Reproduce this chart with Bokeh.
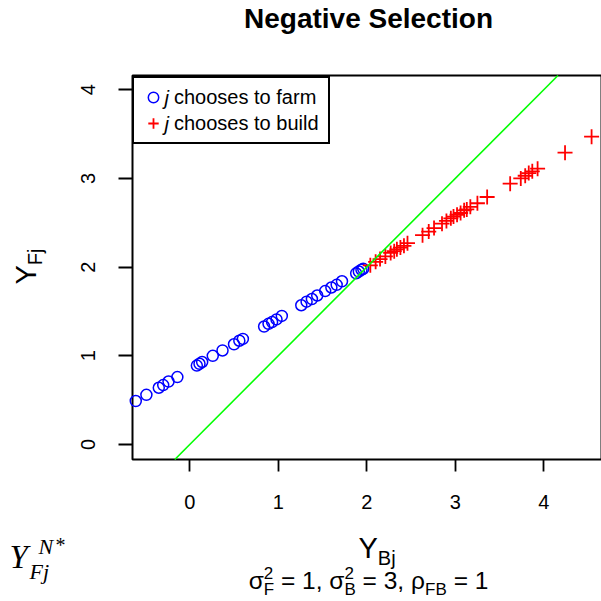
import math
from bokeh.plotting import figure
from bokeh.models import Range1d, Label, Legend, LegendItem, FixedTicker, BoxAnnotation
from bokeh.embed import file_html
from bokeh.resources import INLINE

# Workers who choose to farm: potential building outcome (Y_B) and farming outcome (Y_F)
farm_yb = [-0.61, -0.49, -0.35, -0.30, -0.24, -0.14, 0.08, 0.11, 0.14, 0.26,
           0.37, 0.50, 0.56, 0.60, 0.84, 0.89, 0.93, 0.98, 1.04, 1.26,
           1.32, 1.38, 1.44, 1.53, 1.60, 1.66, 1.72, 1.88, 1.91, 1.94, 1.96]
farm_yf = [0.49, 0.56, 0.64, 0.67, 0.71, 0.76, 0.89, 0.91, 0.93, 1.00,
           1.06, 1.13, 1.17, 1.19, 1.33, 1.36, 1.38, 1.41, 1.45, 1.57,
           1.61, 1.64, 1.68, 1.73, 1.77, 1.80, 1.84, 1.93, 1.95, 1.97, 1.98]

# Workers who choose to build
build_yb = [2.04, 2.10, 2.15, 2.21, 2.27, 2.31, 2.34, 2.38, 2.42, 2.46,
            2.63, 2.70, 2.76, 2.85, 2.90, 2.95, 2.98, 3.02, 3.06, 3.10,
            3.13, 3.17, 3.25, 3.36, 3.62, 3.74, 3.79, 3.83, 3.87, 3.93,
            4.24, 4.54]
build_yf = [2.02, 2.06, 2.09, 2.12, 2.16, 2.18, 2.20, 2.22, 2.24, 2.27,
            2.36, 2.40, 2.44, 2.49, 2.52, 2.55, 2.57, 2.59, 2.61, 2.64,
            2.65, 2.68, 2.72, 2.79, 2.94, 3.00, 3.03, 3.06, 3.08, 3.11,
            3.29, 3.47]

# 45-degree reference line Y_F = Y_B
diag_slope = 1.0
diag_intercept = 0.0

x_ticks = [0, 1, 2, 3, 4]
y_ticks = [0, 1, 2, 3, 4]

title_text = "Negative Selection"
legend_subject = "j"
legend_farm = "chooses to farm"
legend_build = "chooses to build"

W, H = 601, 601
SANS = "Liberation Sans"
SERIF = "Liberation Serif"

# Plot box (data limits) and where it sits on the canvas
BOX_X0, BOX_X1 = -0.647, 4.652
BOX_Y0, BOX_Y1 = -0.169, 4.16
BOX_L, BOX_R, BOX_T, BOX_B = 132, 601, 75, 459

# The frame fills the whole canvas; ranges are extended so that the box
# lands on BOX_L..BOX_R / BOX_T..BOX_B and the outer texts stay inside the frame.
kx = (BOX_R - BOX_L) / (BOX_X1 - BOX_X0)
ky = (BOX_B - BOX_T) / (BOX_Y1 - BOX_Y0)
x_range = Range1d(BOX_X0 - BOX_L / kx, BOX_X0 + (W - BOX_L) / kx)
y_range = Range1d(BOX_Y0 - (H - BOX_B) / ky, BOX_Y0 + BOX_B / ky)

p = figure(width=W, height=H, output_backend="svg", toolbar_location=None,
           title=None, x_range=x_range, y_range=y_range,
           min_border=0, min_border_left=0, min_border_right=0,
           min_border_top=0, min_border_bottom=0)
p.background_fill_color = "white"
p.border_fill_color = "white"
p.outline_line_color = None
p.xgrid.visible = False
p.ygrid.visible = False

p.add_layout(BoxAnnotation(left=BOX_X0, right=BOX_X1, bottom=BOX_Y0, top=BOX_Y1,
                           fill_color=None, line_color="black", line_width=2,
                           line_alpha=1.0, level="underlay"))

p.xaxis.fixed_location = BOX_Y0
p.yaxis.fixed_location = BOX_X0
for ax, ticks in ((p.xaxis[0], x_ticks), (p.yaxis[0], y_ticks)):
    ax.ticker = FixedTicker(ticks=ticks)
    ax.axis_line_color = None
    ax.major_tick_line_color = "black"
    ax.major_tick_line_width = 1.8
    ax.major_tick_in = 0
    ax.minor_tick_line_color = None
    ax.major_label_text_font = SANS
    ax.major_label_text_font_size = "20px"
    ax.major_label_text_color = "black"
p.xaxis.major_tick_out = 12
p.xaxis.major_label_standoff = 23
p.yaxis.major_tick_out = 14
p.yaxis.major_label_standoff = 23
p.yaxis.major_label_orientation = "vertical"

r_farm = p.scatter(farm_yb, farm_yf, marker="circle", size=11,
                   fill_color=None, line_color="#0000FF", line_width=1.5)
r_build = p.scatter(build_yb, build_yf, marker="cross", size=15,
                    line_color="#FF0000", line_width=1.8)

# Diagonal Y_F = Y_B, cut at the edges of the box
dx0 = max(BOX_X0, (BOX_Y0 - diag_intercept) / diag_slope)
dx1 = min(BOX_X1, (BOX_Y1 - diag_intercept) / diag_slope)
p.line([dx0, dx1], [diag_slope * dx0 + diag_intercept, diag_slope * dx1 + diag_intercept],
       line_color="#00FF00", line_width=1.6)

# Legend box; the rendered box comes out LEG_EXTRA px taller than the sum
# of its padding and rows, split evenly above and below the rows.
LEG_PAD, LEG_ROW, LEG_SP, LEG_EXTRA = 6, 26, 0, 5
leg_h = 2 * LEG_PAD + 2 * LEG_ROW + LEG_SP + LEG_EXTRA
legend = Legend(items=[LegendItem(label=legend_farm, renderers=[r_farm]),
                       LegendItem(label=legend_build, renderers=[r_build])],
                location=(BOX_L, H - BOX_T - leg_h), margin=0,
                padding=LEG_PAD, spacing=LEG_SP,
                glyph_width=26, glyph_height=LEG_ROW, label_height=LEG_ROW,
                label_width=148, label_standoff=8,
                label_text_font=SANS, label_text_font_size="20px",
                label_text_color="black",
                border_line_color="black", border_line_width=2, border_line_alpha=1.0,
                background_fill_alpha=0.0)
p.add_layout(legend)

# Texts are anchored on their vertical middle; BASE_K converts a wanted
# alphabetic baseline into that middle for a given font size.
BASE_K = 0.32


def put(text, px, py, size, font=SANS, style="normal", align="left", angle=0.0):
    """Place a text piece whose baseline starts at canvas pixel (px, py)."""
    if angle:
        px -= BASE_K * size
    else:
        py -= BASE_K * size
    p.add_layout(Label(x=px, y=H - py, x_units="screen", y_units="screen",
                       text=text, text_font=font, text_font_size=f"{size}px",
                       text_font_style=style, text_align=align,
                       text_baseline="middle", angle=angle,
                       text_color="black", level="overlay"))


# Advance widths (em) of the sans glyphs used in the composed labels
ADV = {" ": 0.278, "=": 0.584, "1": 0.556, "2": 0.556, "3": 0.556, ",": 0.278,
       "σ": 0.617, "ρ": 0.578, "F": 0.611, "B": 0.667, "j": 0.222, "Y": 0.667}


def tw(s, size):
    return sum(ADV[c] for c in s) * size


# Title
put(title_text, 368, 27, 28, style="bold", align="center")

# Italic subject letter in the legend rows
row1 = BOX_T + LEG_EXTRA / 2 + LEG_PAD + LEG_ROW / 2
row2 = row1 + LEG_ROW + LEG_SP
put(legend_subject, 164, row1 + 7, 20, style="italic")
put(legend_subject, 164, row2 + 7, 20, style="italic")

# y-axis title: Y_Fj (rotated)
LAB, SUB = 29, 20
y_start = 284
put("Y", 35, y_start, LAB, angle=math.pi / 2)
put("Fj", 41, y_start - tw("Y", LAB), SUB, angle=math.pi / 2)

# x-axis title: Y_Bj
put("Y", 358, 557, LAB)
put("Bj", 358 + tw("Y", LAB), 564, SUB)

# Parameter line under the x-axis title
M, S = 24.5, 17
base, sup_base, sub_base = 588, 578, 594
parts = [("main", "σ"), ("pair", ("2", "F")), ("gap", None), ("main", "= 1, σ"),
         ("pair", ("2", "B")), ("gap", None), ("main", "= 3, ρ"),
         ("sub", "FB"), ("gap", None), ("main", "= 1")]


def part_width(kind, t):
    if kind == "main":
        return tw(t, M)
    if kind == "pair":
        return max(tw(t[0], S), tw(t[1], S))
    if kind == "sub":
        return tw(t, S)
    return tw(" ", M)


total = sum(part_width(k, t) for k, t in parts)
cx = 368 - total / 2
for kind, t in parts:
    if kind == "main":
        put(t, cx, base, M)
    elif kind == "pair":
        put(t[0], cx, sup_base, S)
        put(t[1], cx, sub_base, S)
    elif kind == "sub":
        put(t, cx, sub_base, S)
    cx += part_width(kind, t)

# Math label at the lower left: Y_{Fj}^{N*}
put("Y", 9, 567, 33, font=SERIF, style="italic")
put("N", 38, 553, 22, font=SERIF, style="italic")
put("*", 55, 551, 20, font=SERIF)
put("Fj", 29, 578, 22, font=SERIF, style="italic")

open("out.html", "w").write(file_html(p, INLINE))
